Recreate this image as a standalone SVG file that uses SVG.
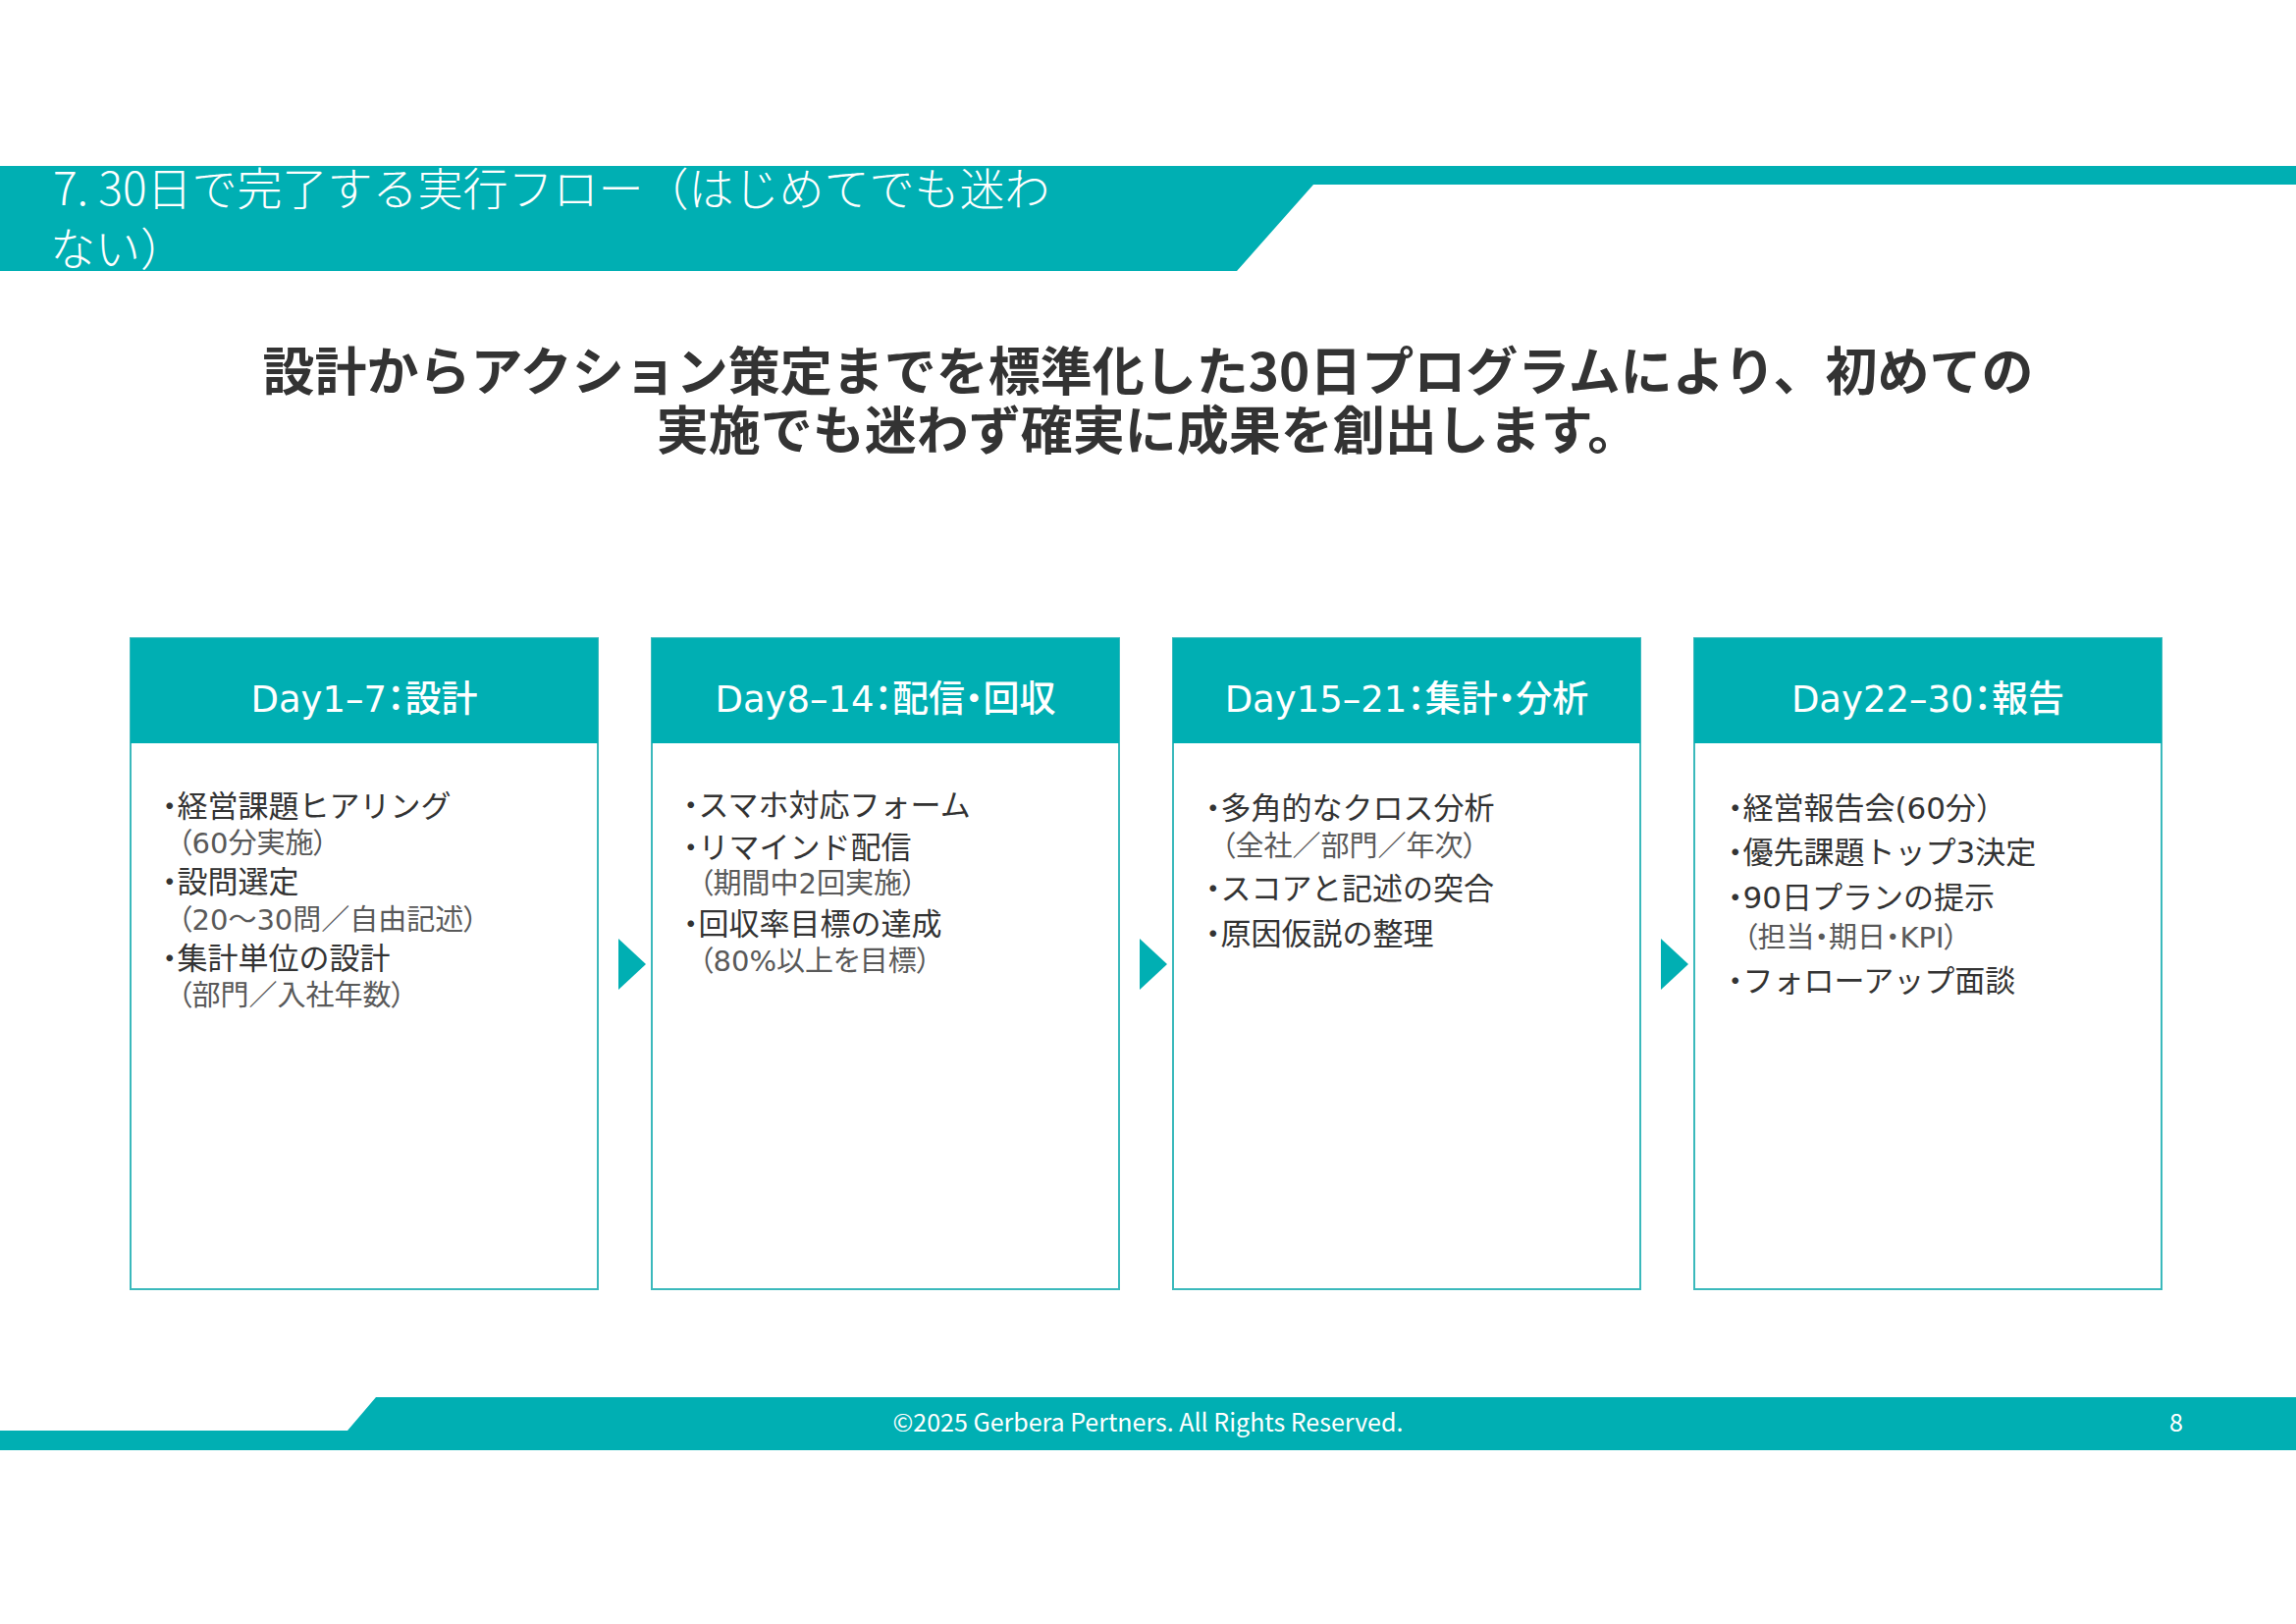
<svg xmlns="http://www.w3.org/2000/svg" width="2339" height="1654" viewBox="0 0 2339 1654">
  <style>
    .band { fill: #00AFB3; }
    .title { font-family: "Noto Sans CJK JP", "Noto Sans", sans-serif; font-size: 46px; font-weight: 300; fill: #ffffff; }
    .lead { font-family: "Noto Sans CJK JP", "Noto Sans", sans-serif; font-size: 53px; font-weight: 700; fill: #333333; text-anchor: middle; }
    .hdrbg { fill: #00AFB3; }
    .body { fill: #ffffff; stroke: #3BB9BC; stroke-width: 2; }
    .hdr { font-family: "DejaVu Sans", "Noto Sans CJK JP", sans-serif; font-size: 37px; font-weight: 500; fill: #ffffff; text-anchor: middle; font-feature-settings: "palt"; }
    .m { font-family: "DejaVu Sans", "Noto Sans CJK JP", sans-serif; font-size: 31px; fill: #333333; }
    .s { font-family: "DejaVu Sans", "Noto Sans CJK JP", sans-serif; font-size: 29px; fill: #595959; font-feature-settings: "palt"; }
    .p { font-feature-settings: "palt"; }
    .arrow { fill: #00AFB3; }
    .foot { font-family: "Noto Sans CJK JP", "Noto Sans", sans-serif; font-size: 25px; fill: #ffffff; }
  </style>
  <rect x="0" y="0" width="2339" height="1654" fill="#ffffff"/>

  <!-- Title band -->
  <g id="title-band">
    <polygon class="band" points="0,169 2339,169 2339,188 1338,188 1260,276 0,276"/>
    <text class="title" x="54" y="209">7. 30日で完了する実行フロー（はじめてでも迷わ</text>
    <text class="title" x="51" y="270">ない）</text>
  </g>

  <!-- Lead text -->
  <g id="lead">
    <text class="lead" x="1169.5" y="398">設計からアクション策定までを標準化した30日プログラムにより、初めての</text>
    <text class="lead" x="1169.5" y="458">実施でも迷わず確実に成果を創出します。</text>
  </g>

  <!-- Node 1 -->
  <g id="node-day1-7">
    <rect class="body" x="133" y="650" width="476" height="663"/>
    <rect class="hdrbg" x="133" y="650" width="476" height="107"/>
    <text class="hdr" x="371" y="725">Day1–7：設計</text>
    <text class="m" x="165" y="832"><tspan class="p">・</tspan>経営課題ヒアリング</text>
    <text class="s" x="181" y="869">（60分実施）</text>
    <text class="m" x="165" y="909"><tspan class="p">・</tspan>設問選定</text>
    <text class="s" x="181" y="947">（20〜30問／自由記述）</text>
    <text class="m" x="165" y="987"><tspan class="p">・</tspan>集計単位の設計</text>
    <text class="s" x="181" y="1024">（部門／入社年数）</text>
  </g>

  <!-- Node 2 -->
  <g id="node-day8-14">
    <rect class="body" x="664" y="650" width="476" height="663"/>
    <rect class="hdrbg" x="664" y="650" width="476" height="107"/>
    <text class="hdr" x="902" y="725">Day8–14：配信・回収</text>
    <text class="m" x="696" y="831"><tspan class="p">・</tspan>スマホ対応フォーム</text>
    <text class="m" x="696" y="874"><tspan class="p">・</tspan>リマインド配信</text>
    <text class="s" x="712" y="910">（期間中2回実施）</text>
    <text class="m" x="696" y="952"><tspan class="p">・</tspan>回収率目標の達成</text>
    <text class="s" x="712" y="989">（80%以上を目標）</text>
  </g>

  <!-- Node 3 -->
  <g id="node-day15-21">
    <rect class="body" x="1195" y="650" width="476" height="663"/>
    <rect class="hdrbg" x="1195" y="650" width="476" height="107"/>
    <text class="hdr" x="1433" y="725">Day15–21：集計・分析</text>
    <text class="m" x="1228" y="834"><tspan class="p">・</tspan>多角的なクロス分析</text>
    <text class="s" x="1244" y="872">（全社／部門／年次）</text>
    <text class="m" x="1228" y="916"><tspan class="p">・</tspan>スコアと記述の突合</text>
    <text class="m" x="1228" y="962"><tspan class="p">・</tspan>原因仮説の整理</text>
  </g>

  <!-- Node 4 -->
  <g id="node-day22-30">
    <rect class="body" x="1726" y="650" width="476" height="663"/>
    <rect class="hdrbg" x="1726" y="650" width="476" height="107"/>
    <text class="hdr" x="1964" y="725">Day22–30：報告</text>
    <text class="m" x="1760" y="834"><tspan class="p">・</tspan>経営報告会(60分）</text>
    <text class="m" x="1760" y="879"><tspan class="p">・</tspan>優先課題トップ3決定</text>
    <text class="m" x="1760" y="925"><tspan class="p">・</tspan>90日プランの提示</text>
    <text class="s" x="1776" y="965">（担当・期日・KPI）</text>
    <text class="m" x="1760" y="1010"><tspan class="p">・</tspan>フォローアップ面談</text>
  </g>

  <!-- Connectors -->
  <g id="connectors">
    <polygon class="arrow" points="630,956 658,982 630,1008"/>
    <polygon class="arrow" points="1161,956 1189,982 1161,1008"/>
    <polygon class="arrow" points="1692,956 1720,982 1692,1008"/>
  </g>

  <!-- Footer -->
  <g id="footer">
    <polygon class="band" points="0,1457 354,1457 383,1423 2339,1423 2339,1477 0,1477"/>
    <text class="foot" x="1169.5" y="1458" text-anchor="middle">©2025 Gerbera Pertners. All Rights Reserved.</text>
    <text class="foot" x="2217" y="1458" text-anchor="middle">8</text>
  </g>
</svg>
